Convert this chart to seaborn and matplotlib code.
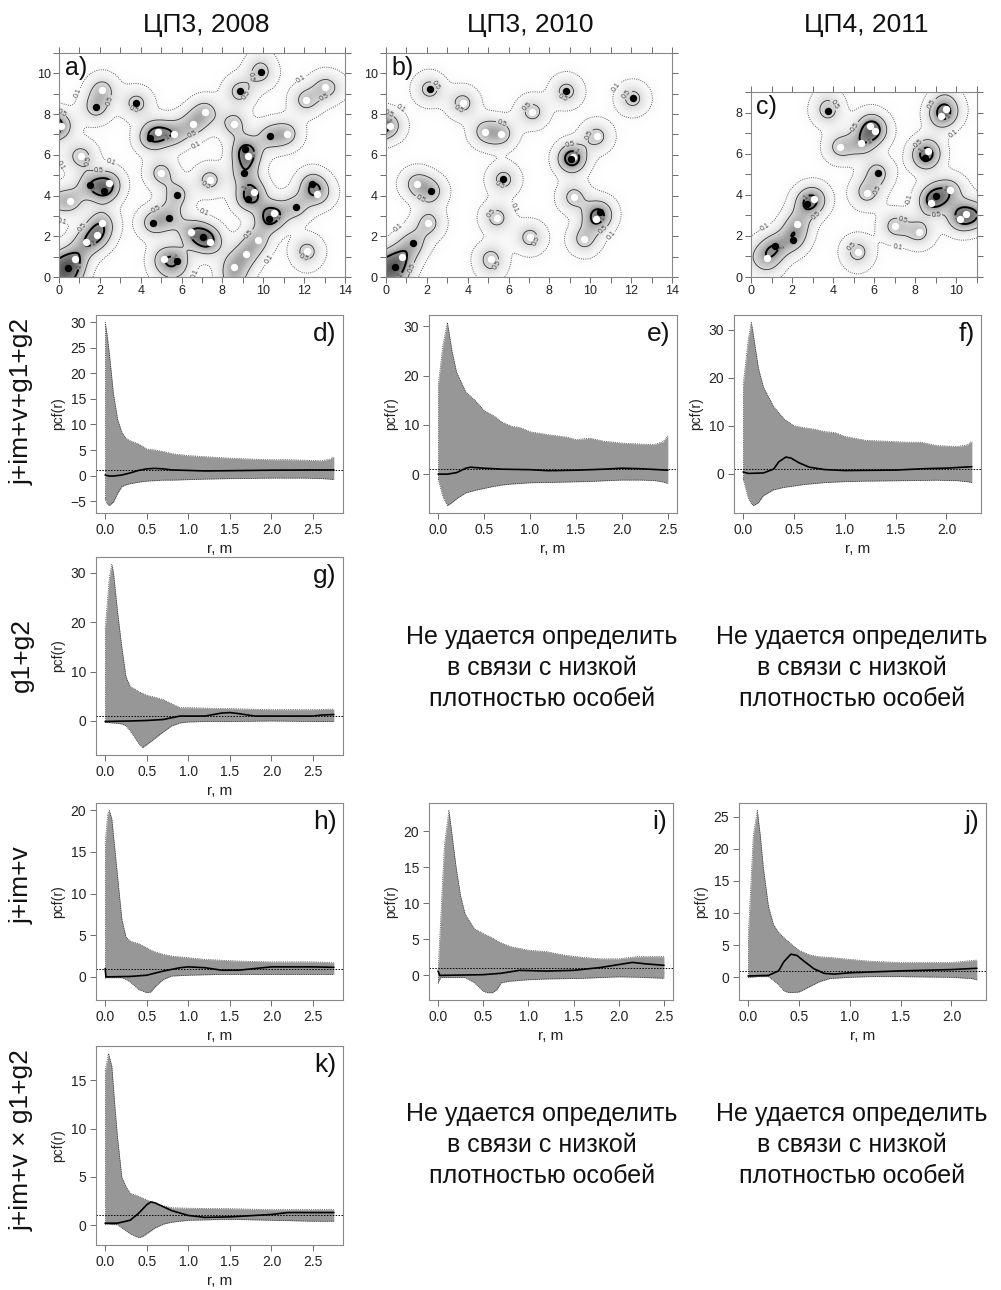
import math
import numpy as np
import seaborn as sns
import matplotlib
matplotlib.use('Agg')
import matplotlib.pyplot as plt
from matplotlib.ticker import MultipleLocator

# --- точечные карты (координаты особей, м) ---
a_white_x = [0.1, 2.12, 1.09, 2.43, 0.54, 2.09, 1.88, 1.34, 0.77, 4.87, 5.65, 6.55, 7.16, 5.0, 7.37,
             6.47, 7.4, 5.15, 8.55, 11.16, 9.23, 9.54, 10.5, 9.72, 9.15, 8.55, 12.09, 13.04, 12.65, 12.14]
a_white_y = [7.43, 9.2, 5.93, 4.62, 3.73, 2.65, 2.04, 1.7, 0.9, 7.11, 7.04, 7.52, 8.12, 5.11, 4.77,
             2.22, 1.73, 0.87, 7.52, 7.04, 5.92, 4.17, 3.12, 1.83, 1.14, 0.49, 8.69, 9.31, 4.1, 1.26]
a_black_x = [1.8, 3.79, 4.46, 1.5, 2.2, 0.46, 8.84, 9.87, 10.33, 9.12, 9.07, 9.23, 10.28, 11.58,
             12.39, 5.77, 4.58, 5.38, 7.06, 5.8]
a_black_y = [8.33, 8.53, 6.83, 4.54, 4.22, 0.46, 9.12, 10.05, 6.91, 6.29, 5.1, 3.84, 2.86, 3.43,
             4.56, 4.04, 2.65, 2.92, 1.96, 0.79]

b_white_x = [0.18, 3.75, 4.85, 5.65, 7.17, 1.51, 2.08, 0.78, 5.42, 7.05, 5.13, 10.31, 9.2, 10.28, 9.71, 9.17]
b_white_y = [7.43, 8.55, 7.14, 7.04, 8.12, 4.58, 2.65, 0.98, 2.91, 1.94, 0.9, 6.91, 3.92, 2.83, 1.85, 5.88]
b_black_x = [2.13, 8.83, 12.07, 9.04, 5.75, 2.21, 1.32, 0.42, 10.47]
b_black_y = [9.23, 9.12, 8.77, 5.78, 4.79, 4.2, 1.68, 0.49, 3.18]

c_white_x = [0.79, 2.24, 3.06, 4.34, 5.36, 5.79, 6.03, 5.63, 5.19, 7.02, 8.17, 8.61, 9.27, 9.48,
             8.76, 9.68, 10.16, 10.47]
c_white_y = [0.94, 2.56, 3.81, 6.33, 6.52, 7.33, 7.11, 4.1, 1.23, 2.48, 2.19, 6.13, 7.84, 8.15,
             3.62, 4.22, 2.84, 3.07]
c_black_x = [1.17, 2.03, 2.74, 3.73, 6.16, 8.46, 9.0]
c_black_y = [1.51, 1.82, 3.55, 8.1, 5.06, 5.81, 3.93]

# --- парные корреляционные функции: огибающие и наблюдаемые значения ---
d_r = [0, 0.02, 0.05, 0.1, 0.15, 0.2, 0.25, 0.3, 0.4, 0.5, 0.6, 0.7, 0.8, 1.0, 1.2, 1.5, 1.8, 2.0, 2.2, 2.4, 2.6, 2.7, 2.75]
d_hi = [30, 28, 24, 16, 11, 8.5, 7.3, 6.8, 6.2, 5.2, 5.0, 4.7, 4.3, 3.9, 3.7, 3.4, 3.2, 3.1, 3.1, 3.0, 2.9, 3.2, 3.7]
d_lo = [-4.5, -5.5, -5.9, -5.2, -3.5, -2.2, -1.8, -1.6, -1.3, -1.1, -1.0, -0.9, -0.9, -0.8, -0.7, -0.6, -0.55, -0.5, -0.5, -0.5, -0.6, -0.7, -0.8]
d_obs_r = [0, 0.05, 0.1, 0.2, 0.3, 0.4, 0.5, 0.6, 0.7, 0.8, 1.0, 1.2, 1.5, 2.0, 2.5, 2.75]
d_obs = [0.1, -0.1, -0.1, 0.1, 0.5, 1.0, 1.3, 1.4, 1.3, 1.1, 1.0, 0.9, 0.95, 1.05, 1.1, 1.1]

e_r = [0, 0.05, 0.1, 0.15, 0.2, 0.3, 0.4, 0.5, 0.6, 0.7, 0.8, 0.9, 1.0, 1.2, 1.4, 1.5, 1.65, 1.8, 2.0, 2.2, 2.35, 2.45, 2.5]
e_hi = [18, 26, 30.8, 25, 20.7, 16.7, 15, 12.9, 11.9, 10.5, 9.7, 9.4, 8.6, 8.0, 7.5, 7.0, 7.3, 6.7, 6.3, 6.1, 6.0, 6.6, 7.8]
e_lo = [-1, -4.5, -6.4, -5.8, -5.0, -3.8, -3.3, -2.9, -2.5, -2.2, -2.0, -1.9, -1.75, -1.7, -1.6, -1.55, -1.5, -1.35, -1.2, -1.2, -1.3, -1.6, -1.9]
e_obs_r = [0, 0.1, 0.2, 0.3, 0.35, 0.5, 0.7, 1.0, 1.2, 1.5, 1.8, 2.0, 2.2, 2.4, 2.5]
e_obs = [0.0, 0.0, 0.3, 1.2, 1.4, 1.2, 1.0, 0.9, 0.7, 0.8, 1.0, 1.2, 1.1, 0.9, 0.8]

f_r = [0, 0.05, 0.08, 0.1, 0.15, 0.2, 0.3, 0.4, 0.5, 0.6, 0.7, 0.8, 0.9, 1.0, 1.2, 1.4, 1.6, 1.75, 1.9, 2.1, 2.2, 2.25]
f_hi = [18.5, 28, 31.5, 29, 22, 18, 14, 11.5, 10, 9.6, 9.3, 8.8, 8.6, 7.8, 7.0, 6.8, 6.6, 6.6, 5.9, 5.7, 6.0, 6.8]
f_lo = [-1, -5, -6.2, -6.6, -6.0, -4.5, -3.3, -2.8, -2.5, -2.2, -2.0, -1.8, -1.7, -1.6, -1.5, -1.45, -1.4, -1.35, -1.3, -1.4, -1.6, -1.8]
f_obs_r = [0, 0.05, 0.2, 0.3, 0.35, 0.42, 0.47, 0.55, 0.65, 0.8, 1.0, 1.5, 1.8, 2.0, 2.25]
f_obs = [0.4, 0.1, 0.2, 1.0, 2.5, 3.5, 3.3, 2.3, 1.4, 0.9, 0.7, 0.8, 1.1, 1.2, 1.5]

g_r = [0, 0.05, 0.08, 0.1, 0.15, 0.2, 0.25, 0.3, 0.4, 0.45, 0.5, 0.6, 0.7, 0.8, 0.9, 1.0, 1.2, 1.5, 2.0, 2.5, 2.75]
g_hi = [18.6, 29, 31.7, 30, 22, 15, 9, 7, 6, 5.6, 5.2, 4.8, 4.3, 3.5, 2.7, 2.7, 2.6, 2.5, 2.3, 2.3, 2.4]
g_lo = [-0.3, -0.3, -0.4, -0.4, -0.5, -0.6, -1.0, -2.0, -4.5, -5.4, -4.8, -3.5, -2.2, -1.0, -0.4, -0.2, -0.1, -0.1, 0.0, -0.1, -0.1]
g_obs_r = [0, 0.3, 0.5, 0.7, 0.9, 1.2, 1.4, 1.5, 1.6, 1.8, 2.0, 2.5, 2.6, 2.75]
g_obs = [-0.1, 0.0, 0.1, 0.3, 1.0, 1.0, 1.6, 1.7, 1.5, 1.0, 1.0, 1.0, 1.2, 1.3]

h_r = [0, 0.03, 0.05, 0.08, 0.1, 0.15, 0.2, 0.25, 0.3, 0.4, 0.5, 0.55, 0.6, 0.7, 0.8, 1.0, 1.2, 1.4, 1.6, 2.0, 2.5, 2.75]
h_hi = [16, 19.5, 20, 19, 17, 12, 7, 4.8, 4.3, 4.0, 3.5, 3.2, 3.0, 2.7, 2.5, 2.3, 2.1, 2.0, 1.9, 1.8, 1.8, 1.7]
h_lo = [-0.1, -0.1, -0.1, -0.1, -0.1, -0.1, -0.1, -0.3, -0.6, -1.5, -1.9, -1.8, -1.2, -0.3, 0.1, 0.2, 0.25, 0.3, 0.3, 0.3, 0.3, 0.3]
h_obs_r = [0, 0.01, 0.3, 0.5, 0.7, 0.9, 1.0, 1.2, 1.4, 1.6, 1.8, 2.0, 2.5, 2.75]
h_obs = [1.0, 0.0, 0.05, 0.2, 0.7, 1.1, 1.2, 1.1, 0.8, 0.8, 1.0, 1.2, 1.2, 1.15]

i_r = [0, 0.03, 0.07, 0.12, 0.15, 0.2, 0.25, 0.3, 0.4, 0.5, 0.55, 0.6, 0.65, 0.7, 0.8, 1.0, 1.2, 1.4, 1.6, 1.8, 2.0, 2.2, 2.5]
i_hi = [0.5, 8, 18, 22.9, 20, 15, 11, 8.5, 6.5, 5.8, 5.5, 5.2, 4.8, 4.5, 4.0, 3.5, 3.3, 2.8, 2.5, 2.3, 2.3, 2.6, 2.6]
i_lo = [-1.0, -0.3, -0.3, -0.3, -0.3, -0.3, -0.3, -0.3, -1.0, -2.2, -2.4, -2.4, -2.0, -1.0, -0.8, -0.6, -0.5, -0.45, -0.4, -0.3, -0.2, -0.25, -0.4]
i_obs_r = [0, 0.02, 0.5, 0.7, 0.9, 1.2, 1.5, 1.8, 2.0, 2.15, 2.3, 2.5]
i_obs = [0.6, 0.0, 0.1, 0.3, 0.7, 0.6, 0.7, 1.1, 1.5, 1.8, 1.6, 1.4]

j_r = [0, 0.05, 0.09, 0.12, 0.15, 0.2, 0.25, 0.3, 0.35, 0.4, 0.5, 0.6, 0.7, 0.8, 1.0, 1.2, 1.5, 2.0, 2.2, 2.25]
j_hi = [6, 22, 26, 22, 17, 11, 8.2, 7.0, 6.2, 5.5, 4.2, 3.5, 3.2, 3.1, 2.8, 2.5, 2.3, 2.3, 2.6, 2.7]
j_lo = [0, 0.05, 0.1, 0.1, 0.1, 0.1, -0.5, -1.2, -2.1, -2.4, -2.3, -1.5, -0.7, -0.2, 0, 0.1, 0.1, 0, -0.2, -0.4]
j_obs_r = [0, 0.2, 0.3, 0.35, 0.42, 0.48, 0.55, 0.65, 0.75, 0.85, 1.0, 1.5, 2.0, 2.25]
j_obs = [0.2, 0.3, 1.0, 2.4, 3.6, 3.4, 2.5, 1.3, 0.6, 0.5, 0.7, 1.0, 1.2, 1.4]

k_r = [0, 0.04, 0.08, 0.12, 0.15, 0.2, 0.25, 0.3, 0.4, 0.45, 0.5, 0.6, 0.7, 0.8, 1.0, 1.5, 2.0, 2.5, 2.75]
k_hi = [16, 17.8, 16.5, 12, 9, 5, 4, 3.3, 3.0, 2.8, 2.6, 2.3, 2.0, 1.8, 1.75, 1.7, 1.6, 1.6, 1.6]
k_lo = [0.1, 0.1, 0.05, 0.05, 0.05, -0.3, -0.6, -0.9, -1.3, -1.2, -0.9, -0.3, 0.1, 0.3, 0.5, 0.6, 0.5, 0.4, 0.4]
k_obs_r = [0, 0.15, 0.3, 0.4, 0.5, 0.55, 0.6, 0.7, 0.8, 1.0, 1.2, 1.5, 1.8, 2.0, 2.2, 2.5, 2.75]
k_obs = [0.2, 0.2, 0.5, 1.2, 2.1, 2.4, 2.3, 1.9, 1.5, 1.0, 0.8, 0.85, 1.0, 1.1, 1.3, 1.3, 1.3]

col_titles = ['ЦП3, 2008', 'ЦП3, 2010', 'ЦП4, 2011']
row_labels = ['j+im+v+g1+g2', 'g1+g2', 'j+im+v', 'j+im+v × g1+g2']
no_data_text = 'Не удается определить\nв связи с низкой\nплотностью особей'

sns.set_style('white')
plt.rcParams['font.family'] = ['Liberation Sans', 'DejaVu Sans']

W, H = 1001, 1290
fig = plt.figure(figsize=(W / 100, H / 100), dpi=100)


def add_ax(l, r, t, b):
    return fig.add_axes([l / W, 1 - b / H, (r - l) / W, (b - t) / H])


def intensity(px, py, xmax, ymax, sigma=0.5):
    # гауссово ядро с поправкой на край окна
    gx = np.linspace(0, xmax, 300)
    gy = np.linspace(0, ymax, 240)
    X, Y = np.meshgrid(gx, gy)
    Z = np.zeros_like(X)
    for x0, y0 in zip(px, py):
        Z += np.exp(-((X - x0) ** 2 + (Y - y0) ** 2) / (2 * sigma ** 2))
    Z /= 2 * np.pi * sigma ** 2
    erf = np.vectorize(math.erf)
    s2 = sigma * math.sqrt(2)
    ex = 0.5 * (erf((xmax - gx) / s2) + erf(gx / s2))
    ey = 0.5 * (erf((ymax - gy) / s2) + erf(gy / s2))
    Z /= np.outer(ey, ex)
    return gx, gy, Z


def draw_map(ax, wx, wy, bx, by, xmax, ymax, letter):
    gx, gy, Z = intensity(wx + bx, wy + by, xmax, ymax)
    ax.imshow(Z, extent=[0, xmax, 0, ymax], origin='lower', cmap='Greys',
              vmin=0, vmax=2.0, interpolation='bilinear', aspect='auto')
    c1 = ax.contour(gx, gy, Z, levels=[0.1], colors='#333333', linewidths=0.6, linestyles=':')
    c2 = ax.contour(gx, gy, Z, levels=[0.5], colors='#333333', linewidths=0.6)
    c3 = ax.contour(gx, gy, Z, levels=[1.0], colors='black', linewidths=1.4)
    for cs, lab in [(c1, '0.1'), (c2, '0.5'), (c3, '1')]:
        ax.clabel(cs, fmt={cs.levels[0]: lab}, fontsize=5, inline=True, inline_spacing=1, colors='#444444')
    sns.scatterplot(x=wx, y=wy, ax=ax, color='white', s=28, linewidth=0, zorder=5)
    sns.scatterplot(x=bx, y=by, ax=ax, color='black', s=28, linewidth=0, zorder=5)
    ax.set_xlim(0, xmax)
    ax.set_ylim(0, ymax)
    ax.xaxis.set_major_locator(MultipleLocator(2))
    ax.yaxis.set_major_locator(MultipleLocator(2))
    ax.xaxis.set_minor_locator(MultipleLocator(1))
    ax.yaxis.set_minor_locator(MultipleLocator(1))
    ax.tick_params(which='both', direction='out', length=4, width=0.6, color='#555555',
                   top=True, right=True, bottom=True, left=True, labelsize=9, labelcolor='#222222', pad=2)
    for s in ax.spines.values():
        s.set_color('#888888')
        s.set_linewidth(0.8)
    ax.text(0.02, 0.985, letter, transform=ax.transAxes, ha='left', va='top', fontsize=18, color='#111111')


def draw_pcf(ax, r, hi, lo, obs_r, obs, letter, ystep):
    ax.fill_between(r, lo, hi, color='#979797', linewidth=0)
    ax.plot(r, hi, color='black', lw=0.5, ls=':')
    ax.plot(r, lo, color='black', lw=0.5, ls=':')
    ax.plot([r[0], r[0]], [lo[0], hi[0]], color='black', lw=0.5, ls=':')
    ax.axhline(1, color='black', lw=0.7, ls=(0, (1.5, 1.5)))
    sns.lineplot(x=obs_r, y=obs, ax=ax, color='black', linewidth=1.2, sort=False)
    ymin = min(min(lo), min(obs))
    ymax = max(max(hi), max(obs))
    pad = 0.04 * (ymax - ymin)
    ax.set_ylim(ymin - pad, ymax + pad)
    ax.set_xlim(-0.04 * r[-1], 1.04 * r[-1])
    ax.xaxis.set_major_locator(MultipleLocator(0.5))
    ax.xaxis.set_major_formatter(matplotlib.ticker.FormatStrFormatter('%.1f'))
    ax.yaxis.set_major_locator(MultipleLocator(ystep))
    ax.tick_params(direction='out', length=4, width=0.6, color='#555555', left=True, bottom=True,
                   labelsize=10, labelcolor='#222222', pad=3)
    ax.set_xlabel('r, m', fontsize=11, color='#222222', labelpad=4)
    ax.set_ylabel('pcf(r)', fontsize=10, color='#222222', labelpad=4)
    for s in ax.spines.values():
        s.set_color('#888888')
        s.set_linewidth(0.8)
    ax.text(0.975, 0.965, letter, transform=ax.transAxes, ha='right', va='top', fontsize=19, color='#111111')


ax_a = add_ax(59, 345, 53, 277)
draw_map(ax_a, a_white_x, a_white_y, a_black_x, a_black_y, 14, 11, 'a)')
ax_b = add_ax(386, 672, 53, 277)
draw_map(ax_b, b_white_x, b_white_y, b_black_x, b_black_y, 14, 11, 'b)')
ax_c = add_ax(751, 977, 92, 277)
draw_map(ax_c, c_white_x, c_white_y, c_black_x, c_black_y, 11, 9, 'c)')

draw_pcf(add_ax(96, 343, 315, 513), d_r, d_hi, d_lo, d_obs_r, d_obs, 'd)', 5)
draw_pcf(add_ax(429, 677, 315, 513), e_r, e_hi, e_lo, e_obs_r, e_obs, 'e)', 10)
draw_pcf(add_ax(734, 981, 315, 513), f_r, f_hi, f_lo, f_obs_r, f_obs, 'f)', 10)
draw_pcf(add_ax(96, 343, 557, 755), g_r, g_hi, g_lo, g_obs_r, g_obs, 'g)', 10)
draw_pcf(add_ax(96, 343, 803, 1000), h_r, h_hi, h_lo, h_obs_r, h_obs, 'h)', 5)
draw_pcf(add_ax(429, 673, 803, 1000), i_r, i_hi, i_lo, i_obs_r, i_obs, 'i)', 5)
draw_pcf(add_ax(739, 986, 803, 1000), j_r, j_hi, j_lo, j_obs_r, j_obs, 'j)', 5)
draw_pcf(add_ax(96, 343, 1046, 1245), k_r, k_hi, k_lo, k_obs_r, k_obs, 'k)', 5)

for x, t in zip([206, 530, 866], col_titles):
    fig.text(x / W, 1 - 25 / H, t, ha='center', va='center', fontsize=19, color='#111111')

for y, t in zip([401, 655, 885, 1140], row_labels):
    fig.text(22 / W, 1 - y / H, t, ha='center', va='center', rotation=90, fontsize=19, color='#111111')

for x, y in [(542, 668), (852, 668), (542, 1145), (852, 1145)]:
    fig.text(x / W, 1 - y / H, no_data_text, ha='center', va='center', fontsize=18,
             color='#111111', linespacing=1.35)

fig.savefig('out.png', dpi=100, facecolor='white')
